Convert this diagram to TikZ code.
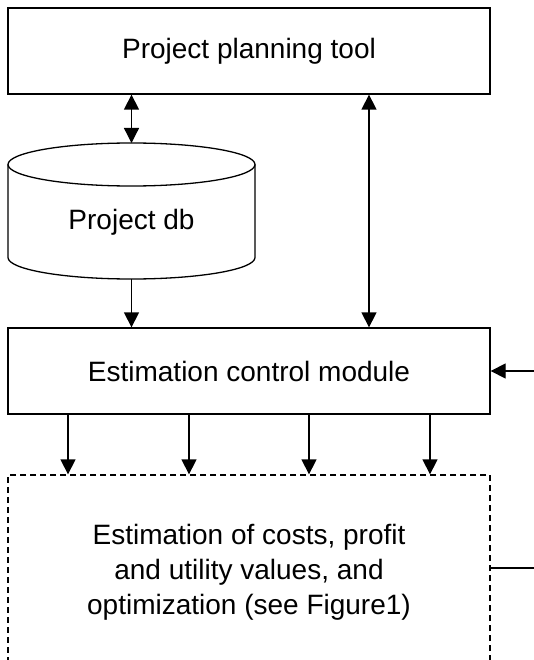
\documentclass[tikz,border=0pt]{standalone}
\usepackage{fontspec}
\setmainfont{Liberation Sans}
\usetikzlibrary{arrows.meta}
\begin{document}
\begin{tikzpicture}[x=1pt,y=-1pt,
  box/.style={draw,line width=1.3pt,minimum width=482pt,inner sep=0pt,font=\fontsize{28}{35}\selectfont,align=center},
  arr/.style={line width=1.3pt,-{Triangle[length=15pt,width=15pt]}},
  darr/.style={line width=1.3pt,{Triangle[length=15pt,width=15pt]}-{Triangle[length=15pt,width=15pt]}},
  ln/.style={line width=1.3pt}]
\useasboundingbox (0,0) rectangle (534,660);
\clip (0,0) rectangle (534,660);
\fill[white] (0,0) rectangle (534,660);
% top box
\node[box,minimum height=86pt] (plan) at (249,51) {Project planning tool};
% cylinder
\draw[ln,fill=white] (8,164.5) -- (8,257.5) arc[start angle=180,end angle=0,x radius=123.5,y radius=21.5] -- (255,164.5);
\draw[ln] (131.5,164.5) ellipse[x radius=123.5,y radius=21.5];
\node[font=\fontsize{28}{35}\selectfont] (db) at (131.5,222) {Project db};
\coordinate (dbtop) at (131.5,143);
\coordinate (dbbot) at (131.5,279);
% control box
\node[box,minimum height=86pt] (ctrl) at (249,371) {Estimation control module};
% estimation box (dashed)
\node[box,dashed,dash pattern=on 6pt off 4pt,minimum height=194pt] (est) at (249,572) {Estimation of costs, profit\\and utility values, and\\optimization (see Figure1)};
% connectors
\draw[darr] (plan.south -| dbtop) -- (dbtop);
\draw[arr] (dbbot) -- (ctrl.north -| dbbot);
\draw[darr] (plan.south -| 369,0) -- (ctrl.north -| 369,0);
\foreach \xx in {68,189,309,430}{
  \draw[arr] (ctrl.south -| \xx,0) -- (est.north -| \xx,0);
}
\coordinate (inR) at (545,371);
\coordinate (outR) at (545,568);
\draw[arr] (inR) -- (ctrl.east);
\draw[ln] (est.east |- outR) -- (outR);
\end{tikzpicture}
\end{document}
